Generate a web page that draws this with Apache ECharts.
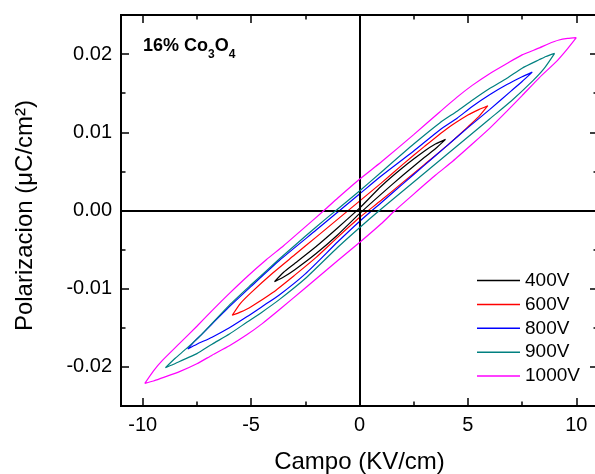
<!DOCTYPE html>
<html><head><meta charset="utf-8">
<script src="https://cdn.jsdelivr.net/npm/echarts@6/dist/echarts.min.js"></script>
<style>html,body{margin:0;padding:0;background:#fff}#c{width:595px;height:474px}</style>
</head><body><div id="c"></div>
<script>
// ---- data ----
const seriesNames = ['400V', '600V', '800V', '900V', '1000V'];

const xTicks = [-10, -5, 0, 5, 10];
const xMinorTicks = [-7.5, -2.5, 2.5, 7.5];
const yTicks = [-0.02, -0.01, 0, 0.01, 0.02];
const yMinorTicks = [-0.015, -0.005, 0.005, 0.015];

// 400V loop (upper branch from +tip, then lower branch back)
const e400 = [3.97, 3.5, 3.0, 2.0, 1.0, 0, -1.0, -2.0, -3.0, -3.5, -3.92,
              -3.5, -3.0, -2.0, -1.0, 0, 1.0, 2.0, 3.0, 3.5, 3.97];
const p400 = [0.0091, 0.0085, 0.0076, 0.0055, 0.0031, 0.0003, -0.0022, -0.0046, -0.0068, -0.0079, -0.0091,
              -0.0085, -0.0076, -0.0055, -0.0031, -0.0004, 0.0021, 0.0045, 0.0068, 0.0079, 0.0091];

const e600 = [5.92, 5.5, 5.0, 4.0, 3.0, 2.0, 1.0, 0, -1.0, -2.0, -3.0, -4.0, -5.0, -5.5, -5.87,
              -5.5, -5.0, -4.0, -3.0, -2.0, -1.0, 0, 1.0, 2.0, 3.0, 4.0, 5.0, 5.5, 5.92];
const p600 = [0.0134, 0.0129, 0.0122, 0.0104, 0.0082, 0.0059, 0.0035, 0.0012, -0.0011, -0.0034, -0.0057, -0.0080, -0.0105, -0.0119, -0.0134,
              -0.0130, -0.0123, -0.0105, -0.0083, -0.0060, -0.0034, -0.0009, 0.0013, 0.0036, 0.0059, 0.0082, 0.0107, 0.0120, 0.0134];

const e800 = [7.97, 7.5, 6.8, 6.0, 5.2, 4.5, 3.7, 2.5, 1.0, 0, -1.0, -2.0, -3.7, -5.0, -6.0, -7.3, -7.6, -7.92,
              -7.5, -6.8, -6.0, -5.2, -4.5, -3.7, -2.5, -1.0, 0, 1.0, 2.0, 3.0, 4.0, 5.0, 6.0, 7.0, 7.5, 7.97];
const p800 = [0.0177, 0.0171, 0.0161, 0.0148, 0.0133, 0.0118, 0.0103, 0.0076, 0.0044, 0.0021, -0.0002, -0.0025, -0.0064, -0.0097, -0.0123, -0.0159, -0.0167, -0.0177,
              -0.0171, -0.0162, -0.0150, -0.0136, -0.0123, -0.0108, -0.0081, -0.0040, -0.0014, 0.0010, 0.0034, 0.0058, 0.0082, 0.0106, 0.0129, 0.0153, 0.0165, 0.0177];

const e900 = [9.0, 8.6, 8.3, 7.5, 6.8, 6.0, 5.2, 4.5, 3.7, 2.5, 1.0, 0, -1.0, -2.0, -3.0, -3.7, -5.0, -6.0, -7.3, -8.0, -8.5, -8.95,
              -8.6, -8.3, -7.5, -6.8, -6.0, -5.2, -4.5, -3.7, -2.5, -1.0, 0, 1.0, 2.0, 3.0, 4.0, 5.0, 6.0, 7.0, 8.0, 8.5, 9.0];
const p900 = [0.0201, 0.0197, 0.0193, 0.0182, 0.0169, 0.0156, 0.0141, 0.0127, 0.0112, 0.0085, 0.0049, 0.0025, 0.0002, -0.0021, -0.0045, -0.0062, -0.0095, -0.0121, -0.0159, -0.0177, -0.0189, -0.0201,
              -0.0197, -0.0193, -0.0183, -0.0171, -0.0158, -0.0143, -0.0130, -0.0114, -0.0087, -0.0047, -0.0022, 0.0002, 0.0025, 0.0048, 0.0071, 0.0094, 0.0117, 0.0140, 0.0166, 0.0181, 0.0201];

const e1000 = [10.0, 9.6, 9.2, 8.7, 8.3, 7.5, 6.8, 6.0, 5.2, 4.5, 3.7, 2.5, 1.0, 0, -1.0, -1.6, -2.5, -3.5, -4.3, -5.2, -6.0, -6.8, -7.5, -8.3, -9.1, -9.5, -9.9,
               -9.5, -9.1, -8.3, -7.5, -6.8, -6.0, -5.2, -4.5, -3.7, -2.5, -1.0, 0, 1.0, 1.6, 2.5, 3.5, 4.3, 5.2, 6.0, 6.8, 7.5, 8.3, 9.1, 9.6, 10.0];
const p1000 = [0.0221, 0.0220, 0.0218, 0.0213, 0.0208, 0.0199, 0.0188, 0.0175, 0.0160, 0.0145, 0.0126, 0.0097, 0.0062, 0.0040, 0.0016, 0.0001, -0.0021, -0.0045, -0.0063, -0.0085, -0.0106, -0.0128, -0.0148, -0.0170, -0.0192, -0.0205, -0.0221,
               -0.0218, -0.0214, -0.0206, -0.0196, -0.0185, -0.0173, -0.0159, -0.0145, -0.0127, -0.0099, -0.0064, -0.0041, -0.0017, -0.0001, 0.0021, 0.0045, 0.0063, 0.0085, 0.0105, 0.0127, 0.0147, 0.0170, 0.0191, 0.0207, 0.0221];

// ---- build ----
const loopsE = [e400, e600, e800, e900, e1000];
const loopsP = [p400, p600, p800, p900, p1000];
const colors = ['#000000', '#ff0000', '#0000ff', '#008080', '#ff00ff'];
const FONT = 'Liberation Sans';

function pairs(E, P) { return E.map((e, i) => [e, P[i]]); }

const axisLineStyle = { color: '#000', width: 2 };
function xAx(pos, ticks, len, labels, extra) {
  return Object.assign({
    type: 'value', min: -11, max: 11, position: pos,
    axisLine: { show: true, onZero: false, lineStyle: axisLineStyle },
    axisTick: { show: true, inside: true, length: len, customValues: ticks, lineStyle: { color: '#000', width: 1.5 } },
    axisLabel: labels ? { show: true, customValues: ticks, fontSize: 20, fontFamily: FONT, color: '#000', margin: 9 } : { show: false },
    splitLine: { show: false }
  }, extra || {});
}
function yAx(pos, ticks, len, labels, extra) {
  return Object.assign({
    type: 'value', min: -0.025, max: 0.025, position: pos,
    axisLine: { show: true, onZero: false, lineStyle: axisLineStyle },
    axisTick: { show: true, inside: true, length: len, customValues: ticks, lineStyle: { color: '#000', width: 1.5 } },
    axisLabel: labels ? { show: true, customValues: ticks, fontSize: 20, fontFamily: FONT, color: '#000', margin: 9,
                          formatter: v => v.toFixed(2) } : { show: false },
    splitLine: { show: false }
  }, extra || {});
}

const series = seriesNames.map((name, i) => ({
  name: name, type: 'line', xAxisIndex: 0, yAxisIndex: 0,
  data: pairs(loopsE[i], loopsP[i]),
  symbol: 'none', showSymbol: false, smooth: 0.2,
  lineStyle: { color: colors[i], width: 1.2 },
  itemStyle: { color: colors[i] },
  z: 2 + i
}));
series[0].markLine = {
  silent: true, symbol: ['none', 'none'], animation: false,
  label: { show: false },
  lineStyle: { color: '#000', width: 2, type: 'solid' },
  data: [{ xAxis: 0 }, { yAxis: 0 }]
};

const option = {
  animation: false,
  backgroundColor: '#fff',
  grid: { left: 121, top: 15, width: 477, height: 391, containLabel: false, outerBoundsMode: 'none' },
  title: {
    text: '16% Co{s|3}O{s|4}', left: 143, top: 31.5, padding: 0,
    textStyle: { fontFamily: FONT, fontWeight: 'bold', fontSize: 18, color: '#000',
      rich: { s: { fontFamily: FONT, fontWeight: 'bold', fontSize: 12, color: '#000', verticalAlign: 'bottom', padding: [17, 0, 0, 0] } } }
  },
  legend: {
    data: seriesNames.map(n => ({ name: n, icon: 'rect' })),
    orient: 'vertical', left: 477, top: 271, padding: 0,
    itemWidth: 43, itemHeight: 1.5, itemGap: 4.9,
    textStyle: { fontFamily: FONT, fontSize: 19, color: '#000', lineHeight: 18 }
  },
  xAxis: [
    xAx('bottom', xTicks, 8, true, { name: 'Campo (KV/cm)', nameLocation: 'middle', nameGap: 44,
        nameTextStyle: { fontFamily: FONT, fontSize: 24, color: '#000' } }),
    xAx('bottom', xMinorTicks, 4.5, false),
    xAx('top', xTicks, 8, false),
    xAx('top', xMinorTicks, 4.5, false)
  ],
  yAxis: [
    yAx('left', yTicks, 8, true, { name: 'Polarizacion (μC/cm²)', nameLocation: 'middle', nameGap: 84,
        nameTextStyle: { fontFamily: FONT, fontSize: 24, color: '#000', padding: [0, 10, 0, 0] } }),
    yAx('left', yMinorTicks, 4.5, false),
    yAx('right', yTicks, 8, false),
    yAx('right', yMinorTicks, 4.5, false)
  ],
  series: series
};

const chart = echarts.init(document.getElementById('c'), null, { renderer: 'canvas' });
chart.setOption(option);
</script>
</body></html>
